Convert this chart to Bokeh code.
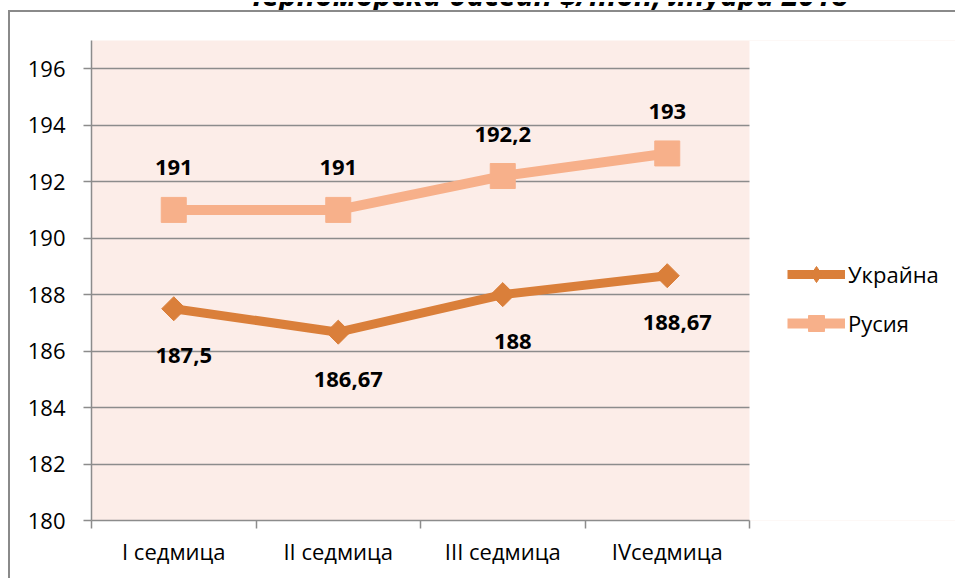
import math
from bokeh.plotting import figure
from bokeh.layouts import column
from bokeh.models import (FixedTicker, Legend, LegendItem, BoxAnnotation, Div,
                          ColumnDataSource)
from bokeh.core.properties import value
from bokeh.embed import file_html
from bokeh.resources import INLINE

# ---- data ----
weeks = ["I седмица", "II седмица", "III седмица", "IVседмица"]
ukraine = [187.5, 186.67, 188, 188.67]
russia = [191, 191, 192.2, 193]
ukraine_labels = ["187,5", "186,67", "188", "188,67"]
russia_labels = ["191", "191", "192,2", "193"]
y_ticks = [180, 182, 184, 186, 188, 190, 192, 194, 196]
title_text = "Черноморски басейн $/тон, януари 2018"

ORANGE = "#DA7F3A"
PEACH = "#F7B08A"
BG = "#FCEDE8"
GRID = "#8C8C8C"
FONT = "Open Sans"

n = len(weeks)
xs = [i + 1 for i in range(n)]
bounds = [i + 0.5 for i in range(n + 1)]

src_u = ColumnDataSource(dict(x=xs, y=ukraine, t=ukraine_labels))
src_r = ColumnDataSource(dict(x=xs, y=russia, t=russia_labels))

# plot area is 658 px wide; the frame runs on to the right edge (864 px) so the
# legend can sit inside it
PLOT_W, FRAME_W = 658, 864
x_end = 0.5 + n * FRAME_W / PLOT_W

p = figure(width=955, height=568, x_range=(0.5, x_end), y_range=(180, 197),
           output_backend="svg", toolbar_location=None,
           min_border_left=91, min_border_right=0, min_border_top=30, min_border_bottom=58,
           background_fill_color=BG, border_fill_color=None, outline_line_color=None)
p.margin = 0

# outer chart-area border (left and top edges) drawn as CSS background lines
p.styles = {
    "background-color": "white",
    "background-image": "linear-gradient(#8A8A8A, #8A8A8A), linear-gradient(#8A8A8A, #8A8A8A)",
    "background-size": "2px 100%, 100% 2px",
    "background-position": "8px 0px, 8px 0px",
    "background-repeat": "no-repeat",
}

# axes
p.xaxis.ticker = FixedTicker(ticks=xs, minor_ticks=bounds)
p.xaxis.bounds = (0.5, n + 0.5)
p.xaxis.major_label_overrides = {x: w for x, w in zip(xs, weeks)}
p.xaxis.major_tick_line_color = None
p.xaxis.major_tick_out = 0
p.xaxis.major_tick_in = 0
p.xaxis.minor_tick_line_color = GRID
p.xaxis.minor_tick_line_width = 1.5
p.xaxis.minor_tick_out = 8
p.xaxis.minor_tick_in = 0
p.xaxis.major_label_standoff = 7
p.xgrid.visible = False

p.yaxis.ticker = FixedTicker(ticks=y_ticks)
p.yaxis.major_tick_out = 8
p.yaxis.major_tick_in = 0
p.yaxis.minor_tick_line_color = None
p.yaxis.major_tick_line_color = GRID
p.yaxis.major_tick_line_width = 1.5
p.yaxis.major_label_standoff = 18
p.ygrid.grid_line_color = GRID
p.ygrid.grid_line_width = 1.5

for ax in (p.xaxis, p.yaxis):
    ax.axis_line_color = GRID
    ax.axis_line_width = 1.5
    ax.major_label_text_font = FONT
    ax.major_label_text_font_size = "22px"
    ax.major_label_text_color = "black"

# white area to the right of the plot area (covers background and grid there)
p.add_layout(BoxAnnotation(left=n + 0.5, fill_color="white", fill_alpha=1,
                           line_color=None, level="underlay"))

# series
lu = p.line("x", "y", source=src_u, line_width=9, line_color=ORANGE)
# diamond marker used for the legend (legend glyphs are not rotated); it is
# hidden under the larger rotated squares in the plot
ud = p.scatter("x", "y", source=src_u, marker="diamond", size=10,
               fill_color=ORANGE, line_color=ORANGE)
su = p.scatter("x", "y", source=src_u, marker="square", angle=math.pi / 4, size=17,
               fill_color=ORANGE, line_color=ORANGE)
lr = p.line("x", "y", source=src_r, line_width=10, line_color=PEACH)
sr = p.scatter("x", "y", source=src_r, marker="square", size=25,
               fill_color=PEACH, line_color=PEACH)

# data labels
p.text("x", "y", text="t", source=src_u, x_offset=10, y_offset=47,
       text_font=value(FONT), text_font_style="bold", text_font_size="22px",
       text_align="center", text_baseline="middle", text_color="black")
p.text("x", "y", text="t", source=src_r, x_offset=0, y_offset=-42,
       text_font=value(FONT), text_font_style="bold", text_font_size="22px",
       text_align="center", text_baseline="middle", text_color="black")

# legend
legend = Legend(items=[LegendItem(label="Украйна", renderers=[lu, ud]),
                       LegendItem(label="Русия", renderers=[lr, sr])],
                location=(696, 177), padding=0, spacing=9, margin=0,
                glyph_width=58, glyph_height=40, label_height=30, label_standoff=3,
                label_text_font=FONT, label_text_font_size="22px",
                label_text_color="black",
                border_line_color=None, background_fill_alpha=0)
p.add_layout(legend)

# title strip: only the lower part of the title is visible in the reference
title_html = (
    '<div style="position:relative; width:955px; height:10px; overflow:hidden;">'
    '<div style="position:absolute; left:0; top:-24px; width:1090px; text-align:center;'
    " font-family:'Open Sans'; font-weight:bold; font-style:italic; font-size:30px;"
    ' line-height:34px; white-space:nowrap; color:black;">'
    + title_text + '</div></div>'
)
title_div = Div(text=title_html, width=955, height=10, margin=0,
                styles={"overflow": "hidden"})

layout = column(title_div, p, spacing=0, margin=0)
open("out.html", "w").write(file_html(layout, INLINE))
